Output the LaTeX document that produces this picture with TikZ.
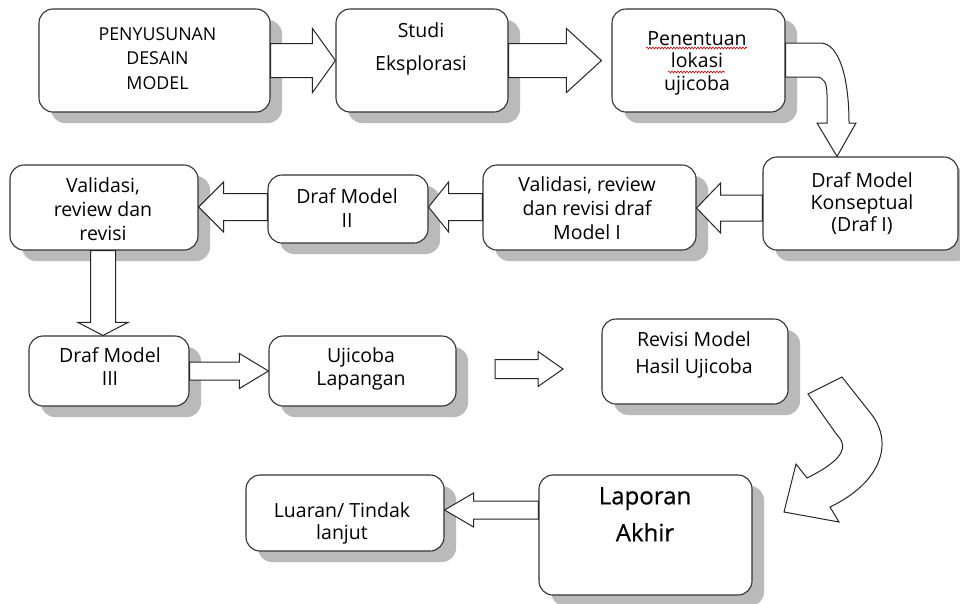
\documentclass[tikz,border=0pt]{standalone}
\usepackage{fontspec}
\setmainfont{Open Sans}
\newfontfamily\lapfont{Open Sans}[FakeBold=0.6]
\usetikzlibrary{calc,shadows,decorations.pathmorphing}
\tikzset{
  box/.style={draw=black!80, line width=1.1pt, rounded corners=14pt, fill=white,
    drop shadow={shadow xshift=12pt, shadow yshift=-11pt, fill=black!27, opacity=1}, inner sep=0pt},
  txt/.style={anchor=north, align=center, inner sep=0pt, text=black},
  barrow/.style={draw=black!85, fill=white, line width=1pt, line join=miter},
  squiggle/.style={draw=red!80!black, line width=0.6pt, decorate,
    decoration={snake, amplitude=0.9pt, segment length=3pt}}
}
\newcommand{\hblock}[5]{%
  \path[barrow] let \p1=#1, \p2=#2, \n1={sign(\x2-\x1)} in
    (\x1,\y1+#3) -- ({\x2-(\n1)*#5},\y1+#3) -- ({\x2-(\n1)*#5},\y1+#4) -- (\x2,\y1)
    -- ({\x2-(\n1)*#5},\y1-#4) -- ({\x2-(\n1)*#5},\y1-#3) -- (\x1,\y1-#3) -- cycle;}
\newcommand{\vblock}[5]{%
  \path[barrow] let \p1=#1, \p2=#2, \n1={sign(\y2-\y1)} in
    (\x1+#3,\y1) -- (\x1+#3,{\y2-(\n1)*#5}) -- (\x1+#4,{\y2-(\n1)*#5}) -- (\x1,\y2)
    -- (\x1-#4,{\y2-(\n1)*#5}) -- (\x1-#3,{\y2-(\n1)*#5}) -- (\x1-#3,\y1) -- cycle;}
\begin{document}
\begin{tikzpicture}[x=1pt,y=-1pt]
\useasboundingbox[fill=white] (0,0) rectangle (960,603);

% boxes
\node[box, minimum width=231pt, minimum height=103pt] (b1) at (154.5,60.5) {};
\node[box, minimum width=172pt, minimum height=103pt] (b2) at (422,60.5) {};
\node[box, minimum width=173pt, minimum height=103pt] (b3) at (698.5,60.5) {};
\node[box, minimum width=195pt, minimum height=93pt] (b4) at (860.5,203.5) {};
\node[box, minimum width=213pt, minimum height=85pt] (b5) at (589.5,207.5) {};
\node[box, minimum width=188pt, minimum height=85pt] (b6) at (104,207.5) {};
\node[box, minimum width=160pt, minimum height=68pt] (b7) at (348,209) {};
\node[box, minimum width=160pt, minimum height=70pt] (b8) at (109,371) {};
\node[box, minimum width=187pt, minimum height=70pt] (b9) at (362.5,371) {};
\node[box, minimum width=186pt, minimum height=85pt] (b10) at (695,361.5) {};
\node[box, minimum width=213pt, minimum height=120pt] (b11) at (645.5,535) {};
\node[box, minimum width=198pt, minimum height=76pt] (b12) at (345,513) {};

% texts
\node[txt, font=\fontsize{17.8}{24.5}\selectfont] (t1) at (157.5,27) {PENYUSUNAN\\DESAIN\\MODEL};
\node[txt, font=\fontsize{19.5}{33}\selectfont] (t2) at (421,22) {Studi\\Eksplorasi};
\node[txt, font=\fontsize{19.5}{22.5}\selectfont] (t3) at (697,31) {Penentuan\\lokasi\\ujicoba};
\node[txt, font=\fontsize{19.5}{22}\selectfont] (t4) at (862,172) {Draf Model\\Konseptual\\(Draf I)};
\node[txt, font=\fontsize{19.5}{24}\selectfont] (t5) at (587,176) {Validasi, review\\dan revisi draf\\Model I};
\node[txt, font=\fontsize{19.5}{24}\selectfont] (t6) at (103,177) {Validasi,\\review dan\\revisi};
\node[txt, font=\fontsize{19.5}{24}\selectfont] (t7) at (347,188) {Draf Model\\II};
\node[txt, font=\fontsize{19.5}{23}\selectfont] (t8) at (110,347) {Draf Model\\III};
\node[txt, font=\fontsize{19.5}{23.5}\selectfont] (t9) at (361,347) {Ujicoba\\Lapangan};
\node[txt, font=\fontsize{19.5}{27}\selectfont] (t10) at (694,331) {Revisi Model\\Hasil Ujicoba};
\node[txt, font=\lapfont\fontsize{24}{37}\selectfont] (t11) at (645,487) {Laporan\\Akhir};
\node[txt, font=\fontsize{19.5}{22}\selectfont] (t12) at (342,502) {Luaran/ Tindak\\lanjut};

% spell-check squiggles
\draw[squiggle] (646,48) -- (747,48);
\draw[squiggle] (668,72) -- (725,72);

% straight block arrows
\hblock{(b1.east)}{(b2.west)}{17pt}{32pt}{23pt}
\hblock{(b2.east)}{($(b3.west)+(-10,0)$)}{17pt}{32pt}{35pt}
\hblock{($(b4.west)+(0,4.5)$)}{(b5.east)}{13pt}{25pt}{24pt}
\hblock{($(b5.west)+(0,-0.5)$)}{(b7.east)}{13.5pt}{25pt}{20pt}
\hblock{($(b7.west)+(0,-2)$)}{(b6.east)}{13.5pt}{25pt}{25pt}
\vblock{($(b6.south)+(-1,0)$)}{(b8.north)}{12.5pt}{25pt}{13pt}
\hblock{(b8.east)}{(b9.west)}{9pt}{17.5pt}{29pt}
\coordinate (a8s) at (495,369);
\coordinate (a8e) at (563,369);
\hblock{(a8s)}{(a8e)}{9.5pt}{17.5pt}{25pt}
\hblock{(b11.west |- 0,510)}{(b12.east)}{9pt}{17pt}{29pt}

% curved block arrows
\draw[barrow] (b3.east |- 0,43) -- (820,43) .. controls (840,43) and (849,80) .. (849,123)
  -- (856,123) -- (b4.north -| 837,0) -- (817,123) -- (827,123) -- (827,95)
  .. controls (827,83) and (824,77) .. (816,77) -- (b3.east |- 0,77) -- cycle;
\draw[barrow] (808,394) -- (842,377) -- (872,415) .. controls (893,443) and (882,482) .. (830,507)
  -- (839,522) -- (784,512) -- (796,464) -- (807,478)
  .. controls (835,464) and (852,450) .. (837,435) -- cycle;
\end{tikzpicture}
\end{document}
